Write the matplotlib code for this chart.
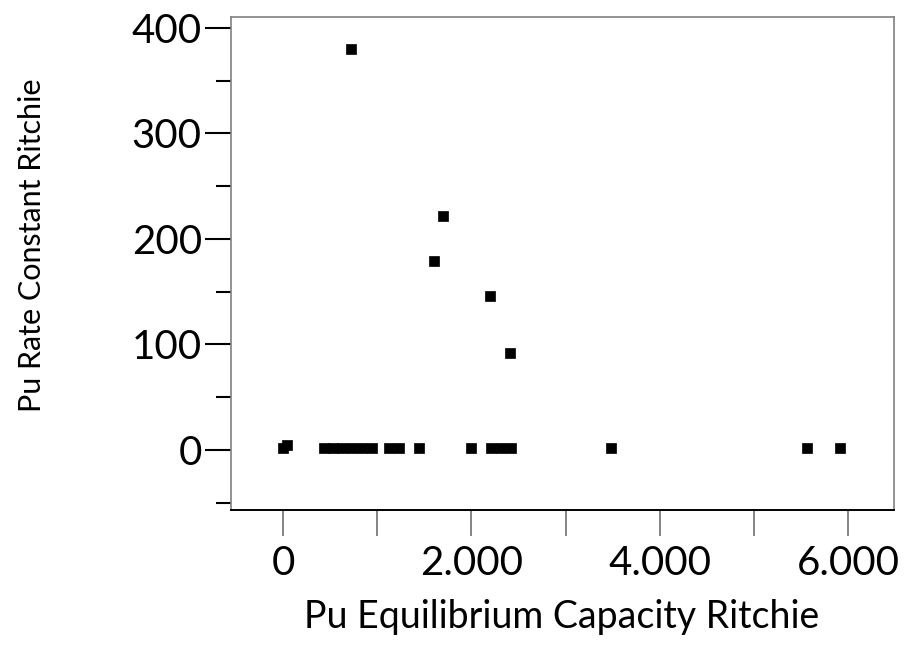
import matplotlib
matplotlib.use("Agg")
import matplotlib.pyplot as plt
from matplotlib.ticker import MultipleLocator, FuncFormatter

plt.rcParams['font.family'] = ['Lato', 'DejaVu Sans']

# Pu equilibrium capacity vs rate constant (Ritchie)
capacity = [0, 40, 433, 531, 632, 736, 842, 948, 1122, 1237, 1441,
            2000, 2206, 2312, 2418, 3478, 5562, 5912,
            720, 1603, 1699, 2198, 2410]
rate = [2, 5, 2, 2, 2, 2, 2, 2, 2, 2, 2,
        2, 2, 2, 2, 2, 2, 2,
        380, 179, 222, 146, 92]

x_label = 'Pu Equilibrium Capacity Ritchie'
y_label = 'Pu Rate Constant Ritchie'


def thousands(v, pos):
    if int(round(v)) % 2000 != 0:
        return ''
    return f'{int(round(v)):,}'.replace(',', '.')


fig = plt.figure(figsize=(9.13, 6.45), dpi=100)
ax = fig.add_axes([0.2530, 0.2093, 0.7262, 0.7643])

ax.plot(capacity, rate, ls='none', marker='s', ms=7.3, color='black', mec='black', mew=0.5)

ax.set_xlim(-552, 6488)
ax.set_ylim(-57, 410.4)

ax.xaxis.set_major_locator(MultipleLocator(1000))
ax.xaxis.set_major_formatter(FuncFormatter(thousands))
ax.yaxis.set_major_locator(MultipleLocator(100))
ax.yaxis.set_minor_locator(MultipleLocator(50))

ax.tick_params(axis='x', which='major', length=19, width=1.2, color='#707070',
               labelsize=29, pad=6)
ax.tick_params(axis='y', which='major', length=19, width=1.5, color='black',
               labelsize=29, pad=2)
ax.tick_params(axis='y', which='minor', length=11, width=1.5, color='black')

for side in ['left', 'top', 'right']:
    ax.spines[side].set_color('#808080')
    ax.spines[side].set_linewidth(1.2)
ax.spines['bottom'].set_color('black')
ax.spines['bottom'].set_linewidth(1.4)

ax.set_xlabel(x_label, fontsize=27)
ax.xaxis.set_label_coords(0.499, -0.217)
ax.xaxis.label.set_va('center')
ax.set_ylabel(y_label, fontsize=22)
ax.yaxis.set_label_coords(-0.300, 0.5375)
ax.yaxis.label.set_va('center')

fig.savefig('out.png', dpi=100, facecolor='white')
